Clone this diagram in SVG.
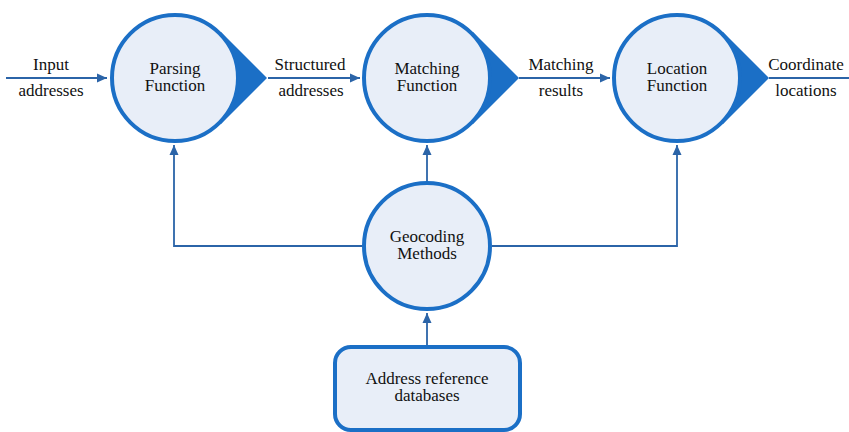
<svg xmlns="http://www.w3.org/2000/svg" width="849" height="432" viewBox="0 0 849 432">
<defs>
<style>
.c{fill:#e8eef8;stroke:#1b6fc6;stroke-width:4}
.tip{fill:#1b6fc6}
.ln{fill:none;stroke:#2b64a8;stroke-width:1.8}
.t{font-family:'Liberation Serif','DejaVu Serif',serif;font-size:17px;fill:#111;text-anchor:middle}
</style>
<marker id="ah" markerUnits="userSpaceOnUse" markerWidth="12" markerHeight="10" refX="10" refY="5" orient="auto">
<path d="M0,0.5 L10,5 L0,9.5 Z" fill="#2b64a8"/>
</marker>
</defs>
<g id="connectors">
<path class="ln" d="M6,78 H107" marker-end="url(#ah)"/>
<path class="ln" d="M268,78 H360" marker-end="url(#ah)"/>
<path class="ln" d="M519,78 H610" marker-end="url(#ah)"/>
<path class="ln" d="M769,78 H849"/>
<path class="ln" d="M362,246 H174 V145" marker-end="url(#ah)"/>
<path class="ln" d="M427,181 V145" marker-end="url(#ah)"/>
<path class="ln" d="M492,246 H677 V145" marker-end="url(#ah)"/>
<path class="ln" d="M427,345 V313" marker-end="url(#ah)"/>
<g class="t">
<text x="51" y="70">Input</text>
<text x="51" y="96">addresses</text>
<text x="310" y="70">Structured</text>
<text x="311" y="96">addresses</text>
<text x="561" y="70">Matching</text>
<text x="561" y="96">results</text>
<text x="806" y="70">Coordinate</text>
<text x="806" y="96">locations</text>
</g>
</g>
<g id="parsing">
<path class="tip" d="M267,78 L221,32 L175,78 L221,124 Z"/>
<circle class="c" cx="175" cy="78" r="63"/>
<text class="t" x="175" y="73.5">Parsing</text>
<text class="t" x="175" y="91">Function</text>
</g>
<g id="matching">
<path class="tip" d="M519,78 L473,32 L427,78 L473,124 Z"/>
<circle class="c" cx="427" cy="78" r="63"/>
<text class="t" x="427" y="73.5">Matching</text>
<text class="t" x="427" y="91">Function</text>
</g>
<g id="location">
<path class="tip" d="M769,78 L723,32 L677,78 L723,124 Z"/>
<circle class="c" cx="677" cy="78" r="63"/>
<text class="t" x="677" y="73.5">Location</text>
<text class="t" x="677" y="91">Function</text>
</g>
<g id="geocoding">
<circle class="c" cx="427" cy="246" r="63"/>
<text class="t" x="427" y="241.5">Geocoding</text>
<text class="t" x="427" y="259">Methods</text>
</g>
<g id="database">
<rect class="c" x="335" y="347" width="185" height="83" rx="16"/>
<text class="t" x="427" y="383.5">Address reference</text>
<text class="t" x="427" y="401">databases</text>
</g>
</svg>
